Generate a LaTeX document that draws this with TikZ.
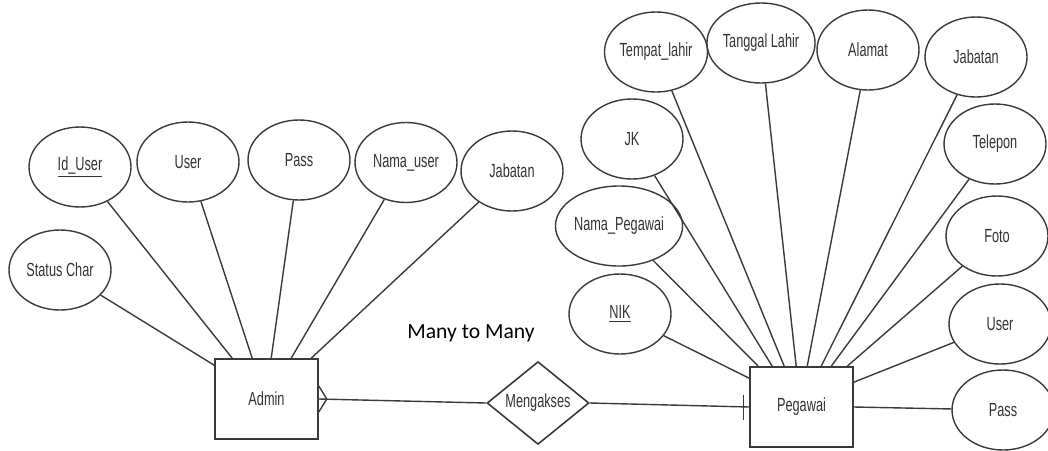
\documentclass[tikz,border=0pt]{standalone}
\usepackage{fontspec}
\setmainfont{Liberation Sans}[FakeStretch=0.67]
\newfontfamily\calibri{Carlito}
\usetikzlibrary{shapes.geometric}
\definecolor{erline}{HTML}{3A3A3A}
\definecolor{ertext}{HTML}{333333}

\begin{document}
\begin{tikzpicture}[x=0.5pt,y=-0.5pt,
  every node/.style={inner sep=0pt,text=ertext,font=\fontsize{9.5}{10}\selectfont},
  attr/.style={draw=erline,line width=0.7pt,ellipse,minimum width=51pt,minimum height=40pt},
  entity/.style={draw=erline,line width=0.8pt,rectangle,minimum width=51.5pt,minimum height=40pt},
  relation/.style={draw=erline,line width=0.8pt,diamond,minimum width=51pt,minimum height=40pt},
  link/.style={draw=erline,line width=0.7pt}]
\useasboundingbox (0,0) rectangle (1048,450);

% Admin
\node [entity] (admin) at (266.5,399) {Admin};
\node [attr] (idu) at (80,167) {\underline{Id\_User}};
\node [attr] (usr) at (188,162) {User};
\node [attr] (pass) at (299,160) {Pass};
\node [attr] (namau) at (406,162.5) {Nama\_user};
\node [attr] (jaba) at (512,171) {Jabatan};
\node [attr] (status) at (60,270) {Status Char};
\draw [link] (status) -- ([yshift=-3.5pt]admin.north west);
\draw [link] (idu) -- ([xshift=9pt]admin.north west);
\draw [link] (usr) -- ([xshift=19pt]admin.north west);
\draw [link] (pass) -- ([xshift=28.5pt]admin.north west);
\draw [link] (namau) -- ([xshift=38.5pt]admin.north west);
\draw [link] (jaba) -- ([xshift=48.5pt]admin.north west);

% relasi
\node [relation] (akses) at (538,403) {Mengakses};
\node [font=\calibri\fontsize{10.8}{12}\selectfont,text=black] (card) at (471,333) {Many to Many};
\draw [link] (admin.east) -- (akses.west);
\draw [link] ([yshift=6.5pt]admin.east) -- ([xshift=4pt]admin.east) -- ([yshift=-6.5pt]admin.east);

% Pegawai
\node [entity] (peg) at (801.5,407) {Pegawai};
\node [attr] (tempat) at (656,52) {Tempat\_lahir};
\node [attr] (tanggal) at (761,43) {Tanggal Lahir};
\node [attr] (alamat) at (868,50) {Alamat};
\node [attr] (jabp) at (976,57) {Jabatan};
\node [attr] (jk) at (632,139) {JK};
\node [attr] (telp) at (995,144) {Telepon};
\node [attr] (namap) at (619,226) {Nama\_Pegawai};
\node [attr] (foto) at (997,236) {Foto};
\node [attr] (nik) at (620,314) {\underline{NIK}};
\node [attr] (userp) at (1000,324) {User};
\node [attr] (passp) at (1003,410) {Pass};
\draw [link] (akses.east) -- (peg.west);
\draw [link] ([xshift=-3pt,yshift=6.25pt]peg.west) -- ([xshift=-3pt,yshift=-6.25pt]peg.west);
\draw [link] (nik) -- ([yshift=-6pt]peg.north west);
\draw [link] (namap) -- ([xshift=4.5pt]peg.north west);
\draw [link] (jk) -- ([xshift=11.5pt]peg.north west);
\draw [link] (tempat) -- ([xshift=17.5pt]peg.north west);
\draw [link] (tanggal) -- ([xshift=23.5pt]peg.north west);
\draw [link] (alamat) -- ([xshift=29pt]peg.north west);
\draw [link] (jabp) -- ([xshift=36pt]peg.north west);
\draw [link] (telp) -- ([xshift=41pt]peg.north west);
\draw [link] (foto) -- ([xshift=49pt]peg.north west);
\draw [link] (userp) -- ([yshift=-8pt]peg.north east);
\draw [link] (peg.east) -- (passp);
\end{tikzpicture}
\end{document}
